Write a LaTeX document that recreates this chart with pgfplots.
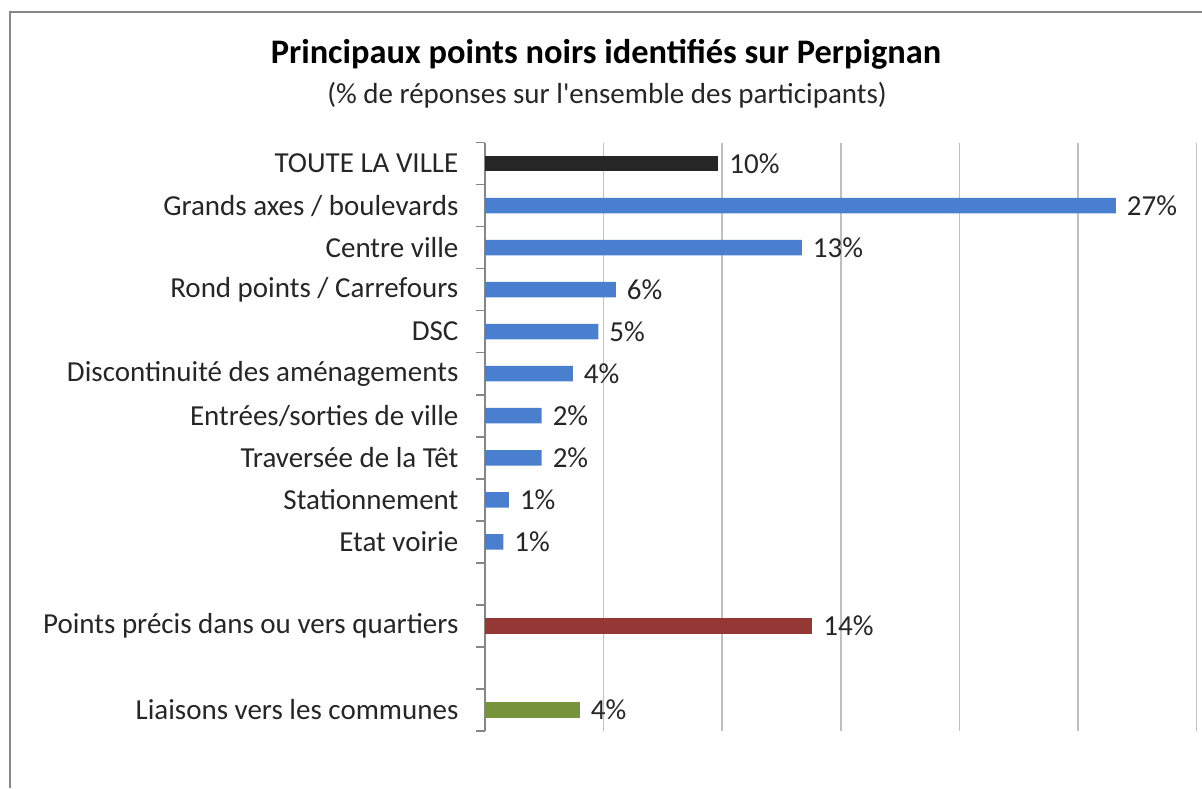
\documentclass[border=0pt]{standalone}
\usepackage{pgfplots}
\pgfplotsset{compat=1.18}
\usepackage{fontspec}
\setmainfont{Carlito}
\definecolor{barblack}{HTML}{262626}
\definecolor{barblue}{HTML}{4A7FD0}
\definecolor{barred}{HTML}{953735}
\definecolor{bargreen}{HTML}{77933C}
\definecolor{gridgray}{HTML}{C0C0C0}
\definecolor{axisgray}{HTML}{868686}
\definecolor{txt}{HTML}{262626}
\begin{document}
\begin{tikzpicture}
\path[use as bounding box] (0,0) rectangle (601pt,394pt);
\draw[axisgray, line width=0.8pt] (5pt,0) -- (5pt,388pt) -- (601pt,388pt);
\node[font=\fontsize{17.2}{20}\selectfont\bfseries] at (303pt,367pt) {Principaux points noirs identifiés sur Perpignan};
\node[font=\fontsize{14.5}{17}\selectfont, text=txt] at (303.5pt,346.5pt) {(\% de réponses sur l\textquotesingle ensemble des participants)};
\begin{axis}[
  scale only axis,
  anchor=south west,
  at={(242.5pt,28.5pt)},
  width=355.75pt, height=294.25pt,
  xmin=0, xmax=30,
  ymin=-0.5, ymax=13.5,
  y dir=reverse,
  axis y line*=left,
  axis x line*=bottom,
  x axis line style={draw=none},
  y axis line style={draw=axisgray, line width=0.8pt},
  xtick={5,10,...,30},
  xticklabels={},
  xtick style={draw=none},
  xmajorgrids,
  major grid style={draw=gridgray, line width=0.8pt},
  ytick={0,...,13},
  yticklabels={TOUTE LA VILLE, Grands axes / boulevards, Centre ville, Rond points / Carrefours, DSC, Discontinuité des aménagements, Entrées/sorties de ville, Traversée de la Têt, Stationnement, Etat voirie, {}, Points précis dans ou vers quartiers, {}, Liaisons vers les communes},
  ytick style={draw=none},
  yticklabel style={font=\fontsize{14.5}{17}\selectfont, text=txt, xshift=-5.5pt},
  extra y ticks={-0.5,0.5,...,13.5},
  extra y tick labels={},
  extra y tick style={ytick style={draw=axisgray, line width=0.8pt}, major tick length=4.5pt, tick align=outside},
  xbar, bar width=7.75pt, bar shift=0pt,
  point meta=x,
  nodes near coords={\pgfmathprintnumber[fixed,precision=0,assume math mode=true]{\pgfplotspointmeta}\%},
  nodes near coords align={horizontal},
  every node near coord/.append style={font=\fontsize{14.5}{17}\selectfont, text=txt, xshift=2pt},
  clip=false,
]
\addplot[fill=barblack, draw=none] coordinates {(9.84,0)};
\addplot[fill=barblue, draw=none] coordinates {(26.6,1) (13.36,2) (5.52,3) (4.78,4) (3.70,5) (2.39,6) (2.39,7) (1.01,8) (0.77,9)};
\addplot[fill=barred, draw=none] coordinates {(13.8,11)};
\addplot[fill=bargreen, draw=none] coordinates {(4.0,13)};
\end{axis}
\end{tikzpicture}
\end{document}
